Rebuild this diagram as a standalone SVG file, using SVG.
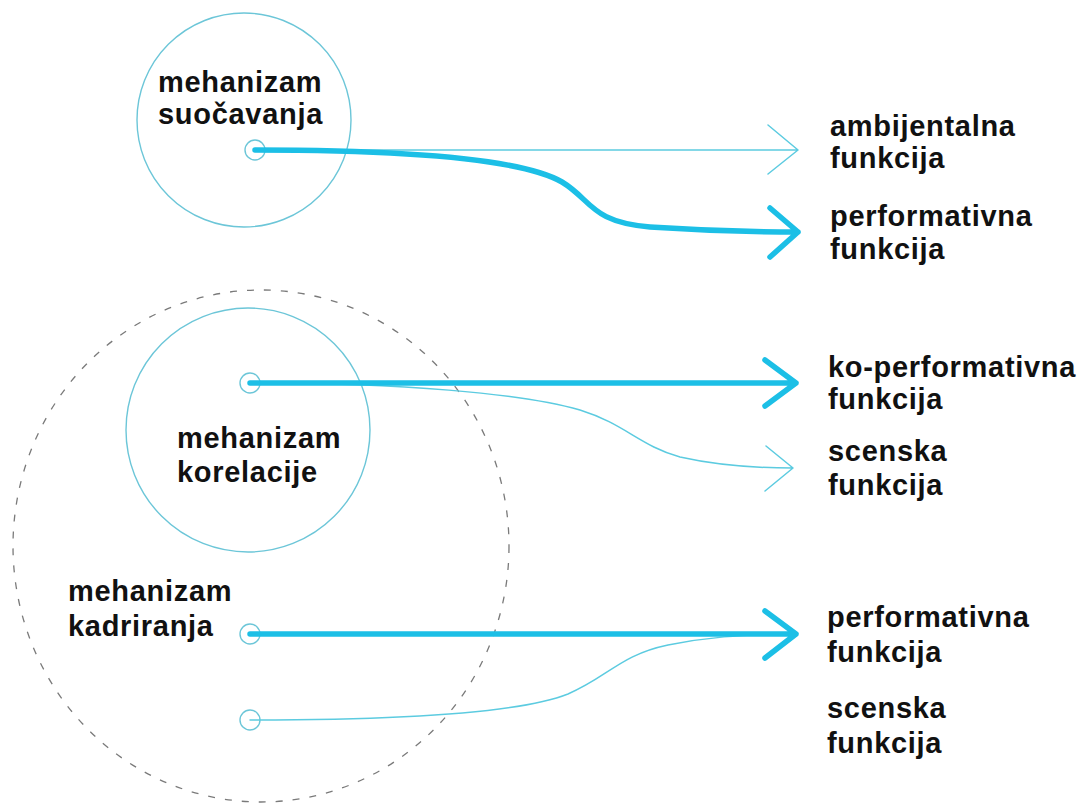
<svg xmlns="http://www.w3.org/2000/svg" width="1077" height="806" viewBox="0 0 1077 806">
<style>
.lbl{font-family:"Liberation Sans",Arial,sans-serif;font-weight:bold;font-size:29px;letter-spacing:0.7px;fill:#111}
.ring{fill:none;stroke:#6cc6d8;stroke-width:1.4}
.dot{fill:none;stroke:#6cc6d8;stroke-width:1.4}
.thick{fill:none;stroke:#1cbfe6;stroke-width:5.5;stroke-linecap:round;stroke-linejoin:round}
.thin{fill:none;stroke:#5ccbe0;stroke-width:1.5;stroke-linecap:round;stroke-linejoin:round}
.dash{fill:none;stroke:#7a7a7a;stroke-width:1.3;stroke-dasharray:7 10}
</style>
<rect width="1077" height="806" fill="#fff"/>
<g id="kadriranja">
<ellipse class="dash" cx="261" cy="546" rx="248" ry="256"/>
<text class="lbl" x="68" y="601">mehanizam</text>
<text class="lbl" x="68" y="636">kadriranja</text>
<circle class="dot" cx="250" cy="634" r="10"/>
<circle class="dot" cx="250" cy="720" r="10"/>
</g>
<g id="suocavanja">
<circle class="ring" cx="244" cy="120" r="107"/>
<text class="lbl" x="158" y="92">mehanizam</text>
<text class="lbl" x="158" y="124">suočavanja</text>
<circle class="dot" cx="255" cy="150" r="10"/>
</g>
<g id="korelacije">
<circle class="ring" cx="248" cy="430" r="122"/>
<text class="lbl" x="177" y="448">mehanizam</text>
<text class="lbl" x="177" y="482">korelacije</text>
<circle class="dot" cx="250" cy="383" r="10"/>
</g>
<g id="targets">
<text class="lbl" x="830" y="136">ambijentalna</text>
<text class="lbl" x="830" y="168">funkcija</text>
<text class="lbl" x="830" y="226">performativna</text>
<text class="lbl" x="830" y="259">funkcija</text>
<text class="lbl" x="828" y="377">ko-performativna</text>
<text class="lbl" x="828" y="409">funkcija</text>
<text class="lbl" x="828" y="461">scenska</text>
<text class="lbl" x="828" y="495">funkcija</text>
<text class="lbl" x="827" y="627">performativna</text>
<text class="lbl" x="827" y="662">funkcija</text>
<text class="lbl" x="827" y="718">scenska</text>
<text class="lbl" x="827" y="753">funkcija</text>
</g>
<g id="connectors">
<path class="thin" d="M255,150 L798,150 M768,125 L798,150 L768,174"/>
<path class="thick" d="M255,150 C400,150 520,158 562,182 C592,200 590,222 650,227 C710,231 760,232 798,232 M770,208 L798,232 L770,257"/>
<path class="thin" d="M250,383 C400,383 520,393 580,410 C625,424 640,446 680,457 C720,466 760,468 793,468 M766,446 L793,468 L765,491"/>
<path class="thick" d="M250,383 L796,383 M765,360 L796,383 L765,406"/>
<path class="thin" d="M250,720 C400,720 520,713 568,694 C608,677 620,655 668,645 C708,637 740,635 780,634"/>
<path class="thick" d="M250,634 L796,634 M765,611 L796,634 L765,658"/>
</g>
</svg>
